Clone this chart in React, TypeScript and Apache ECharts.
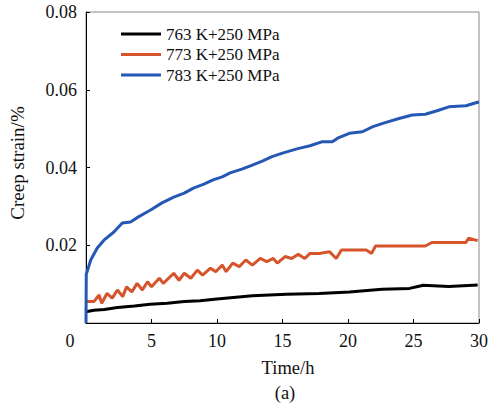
import React, { useEffect, useRef } from "react";
import * as echarts from "echarts";

const seriesNames = ["763 K+250 MPa", "773 K+250 MPa", "783 K+250 MPa"];
const seriesColors = ["#000000", "#d5542b", "#2558b5"];

const blackTime = [0, 0.6, 1.4, 2.4, 3.7, 4.9, 6.2, 7.5, 8.7, 10.0, 12.7, 15.3, 17.8, 20.1, 22.6, 24.7, 25.5, 25.7, 27.7, 29.9];
const blackStrain = [0.0029, 0.0033, 0.0035, 0.004, 0.0044, 0.0048, 0.0051, 0.0055, 0.0057, 0.0062, 0.007, 0.0074, 0.0076, 0.008, 0.0087, 0.0089, 0.0095, 0.0097, 0.0094, 0.0098];

const redTime = [0, 0.6, 1.0, 1.2, 1.6, 2.0, 2.4, 2.8, 3.1, 3.5, 3.9, 4.3, 4.7, 5.0, 5.6, 5.9, 6.7, 7.1, 7.5, 8.0, 8.5, 8.9, 9.5, 9.9, 10.4, 10.7, 11.2, 11.7, 12.2, 12.7, 13.3, 13.8, 14.3, 14.6, 15.2, 15.7, 16.2, 16.7, 17.1, 17.8, 18.6, 19.1, 19.5, 20.6, 21.4, 21.8, 22.1, 25.9, 26.4, 29.0, 29.2, 29.9];
const redStrain = [0.0055, 0.0055, 0.0072, 0.0051, 0.0076, 0.0064, 0.0085, 0.0068, 0.0093, 0.008, 0.0102, 0.0085, 0.0106, 0.0093, 0.0115, 0.0102, 0.0128, 0.011, 0.0128, 0.0115, 0.0136, 0.0123, 0.0141, 0.0132, 0.0149, 0.0132, 0.0154, 0.0145, 0.0162, 0.0149, 0.0166, 0.0158, 0.0166, 0.0154, 0.0171, 0.0166, 0.0177, 0.0166, 0.0179, 0.0179, 0.0183, 0.0166, 0.0188, 0.0188, 0.0188, 0.0179, 0.0198, 0.0198, 0.0207, 0.0207, 0.0218, 0.0212];

const blueTime = [0, 0.02, 0.36, 0.86, 1.37, 2.13, 2.77, 3.4, 4.0, 4.9, 5.8, 6.7, 7.5, 8.2, 9.0, 9.7, 10.4, 11.0, 11.9, 12.7, 13.5, 14.2, 15.0, 16.1, 17.1, 18.0, 18.8, 19.3, 20.1, 21.1, 21.9, 22.9, 23.9, 24.9, 25.9, 26.8, 27.7, 29.0, 29.9, 30];
const blueStrain = [0, 0.0125, 0.0162, 0.0193, 0.0213, 0.0234, 0.0257, 0.026, 0.0273, 0.029, 0.0309, 0.0324, 0.0334, 0.0347, 0.0357, 0.0368, 0.0376, 0.0386, 0.0396, 0.0406, 0.0417, 0.0428, 0.0437, 0.0448, 0.0456, 0.0466, 0.0466, 0.0477, 0.0488, 0.0492, 0.0505, 0.0516, 0.0526, 0.0535, 0.0537, 0.0546, 0.0556, 0.0559, 0.0568, 0.0568];

const xTitle = "Time/h";
const yTitle = "Creep strain/%";
const caption = "(a)";

const FONT = "'Liberation Serif', 'Times New Roman', serif";
const TEXT_COLOR = "#111111";

function zip(t: number[], v: number[]) {
  return t.map((x, i) => [x, v[i]]);
}

export default function App() {
  const ref = useRef<HTMLDivElement>(null);
  useEffect(() => {
    document.body.style.margin = "0";
    if (!ref.current) return;
    const chart = echarts.init(ref.current, undefined, { renderer: "svg" });
    const datasets = [zip(blackTime, blackStrain), zip(redTime, redStrain), zip(blueTime, blueStrain)];
    chart.setOption({
      animation: false,
      backgroundColor: "#ffffff",
      grid: {
        left: 86,
        right: 11,
        top: 12,
        bottom: 83,
        show: true,
        borderColor: "#8a8a8a",
        borderWidth: 1,
      },
      legend: {
        data: seriesNames,
        orient: "vertical",
        left: 121,
        top: 25,
        padding: 0,
        itemWidth: 40,
        itemHeight: 3,
        itemGap: 2.5,
        itemTextGap: 7,
        icon: "rect",
        selectedMode: false,
        textStyle: { fontFamily: FONT, fontSize: 17, color: TEXT_COLOR, lineHeight: 18 },
      },
      xAxis: {
        type: "value",
        min: 0,
        max: 30,
        interval: 5,
        axisLine: { show: true, lineStyle: { color: "#000", width: 1 } },
        axisTick: { show: true, inside: true, length: 4, lineStyle: { color: "#000" } },
        splitLine: { show: false },
        axisLabel: {
          margin: 9,
          fontFamily: FONT,
          fontSize: 18,
          color: TEXT_COLOR,
          formatter: (v: number) => (v === 0 ? "" : String(v)),
        },
      },
      yAxis: {
        type: "value",
        min: 0,
        max: 0.08,
        interval: 0.02,
        axisLine: { show: true, lineStyle: { color: "#000", width: 1 } },
        axisTick: { show: true, inside: true, length: 4, lineStyle: { color: "#000" } },
        splitLine: { show: false },
        axisLabel: {
          margin: 9,
          fontFamily: FONT,
          fontSize: 18,
          color: TEXT_COLOR,
          formatter: (v: number) => (v === 0 ? "" : v.toFixed(2)),
        },
      },
      graphic: [
        {
          type: "text",
          x: 70,
          y: 341,
          style: { text: "0", font: `18px ${FONT}`, fill: TEXT_COLOR, align: "center", verticalAlign: "middle" },
        },
        {
          type: "text",
          x: 288,
          y: 368,
          style: { text: xTitle, font: `18.5px ${FONT}`, fill: TEXT_COLOR, align: "center", verticalAlign: "middle" },
        },
        {
          type: "text",
          x: 285,
          y: 393,
          style: { text: caption, font: `18.5px ${FONT}`, fill: TEXT_COLOR, align: "center", verticalAlign: "middle" },
        },
        {
          type: "text",
          x: 17,
          y: 163,
          rotation: Math.PI / 2,
          style: { text: yTitle, font: `19px ${FONT}`, fill: TEXT_COLOR, align: "center", verticalAlign: "middle" },
        },
      ],
      series: seriesNames.map((name, i) => ({
        name,
        type: "line",
        data: datasets[i],
        showSymbol: false,
        symbol: "none",
        color: seriesColors[i],
        lineStyle: { color: seriesColors[i], width: 3 },
        z: 2 + i,
      })),
    });
    return () => chart.dispose();
  }, []);
  return <div ref={ref} style={{ width: 491, height: 406 }} />;
}
